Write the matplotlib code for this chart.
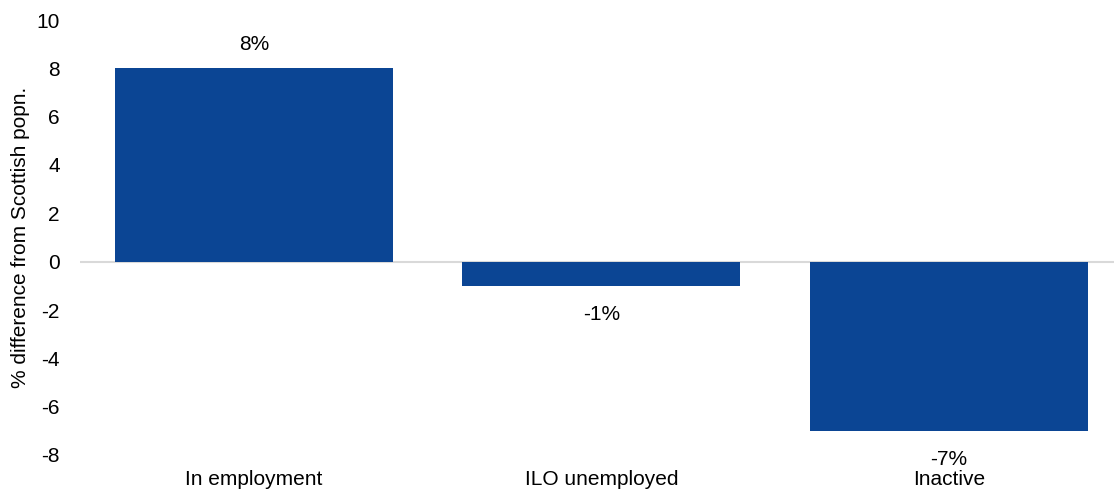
import matplotlib.pyplot as plt

# data
categories = ['In employment', 'ILO unemployed', 'Inactive']
values = [8, -1, -7]
value_labels = ['8%', '-1%', '-7%']
y_ticks = [-8, -6, -4, -2, 0, 2, 4, 6, 8, 10]

plt.rcParams['font.family'] = ['Liberation Sans', 'DejaVu Sans']
FS = 15

fig = plt.figure(figsize=(11.14, 4.96), dpi=100)
ax = fig.add_axes([80 / 1114, 41 / 496, 1034 / 1114, 435 / 496])

x = list(range(len(categories)))
ax.bar(x, values, width=0.8, color='#0B4594', zorder=2)

# value labels above / below each bar
for xi, v, lab in zip(x, values, value_labels):
    if v >= 0:
        ax.annotate(lab, (xi, v), xytext=(0, 10.5), textcoords='offset points',
                    ha='center', va='bottom', fontsize=FS, color='#000000')
    else:
        ax.annotate(lab, (xi, v), xytext=(0, -13.5), textcoords='offset points',
                    ha='center', va='top', fontsize=FS, color='#000000')

ax.axhline(0, color='#D9D9D9', linewidth=1.5, zorder=1)

ax.set_xlim(-0.5, 2.475)
ax.set_ylim(-8, 10)
ax.set_yticks(y_ticks)
ax.set_yticklabels([str(t) for t in y_ticks])
ax.set_xticks(x)
ax.set_xticklabels(categories)
ax.tick_params(axis='both', length=0, labelsize=FS, colors='#000000')
ax.tick_params(axis='y', pad=14.5)
ax.tick_params(axis='x', pad=11)
for s in ax.spines.values():
    s.set_visible(False)

ax.set_ylabel('% difference from Scottish popn.', fontsize=FS, labelpad=5)

fig.savefig('out.png', dpi=100)
